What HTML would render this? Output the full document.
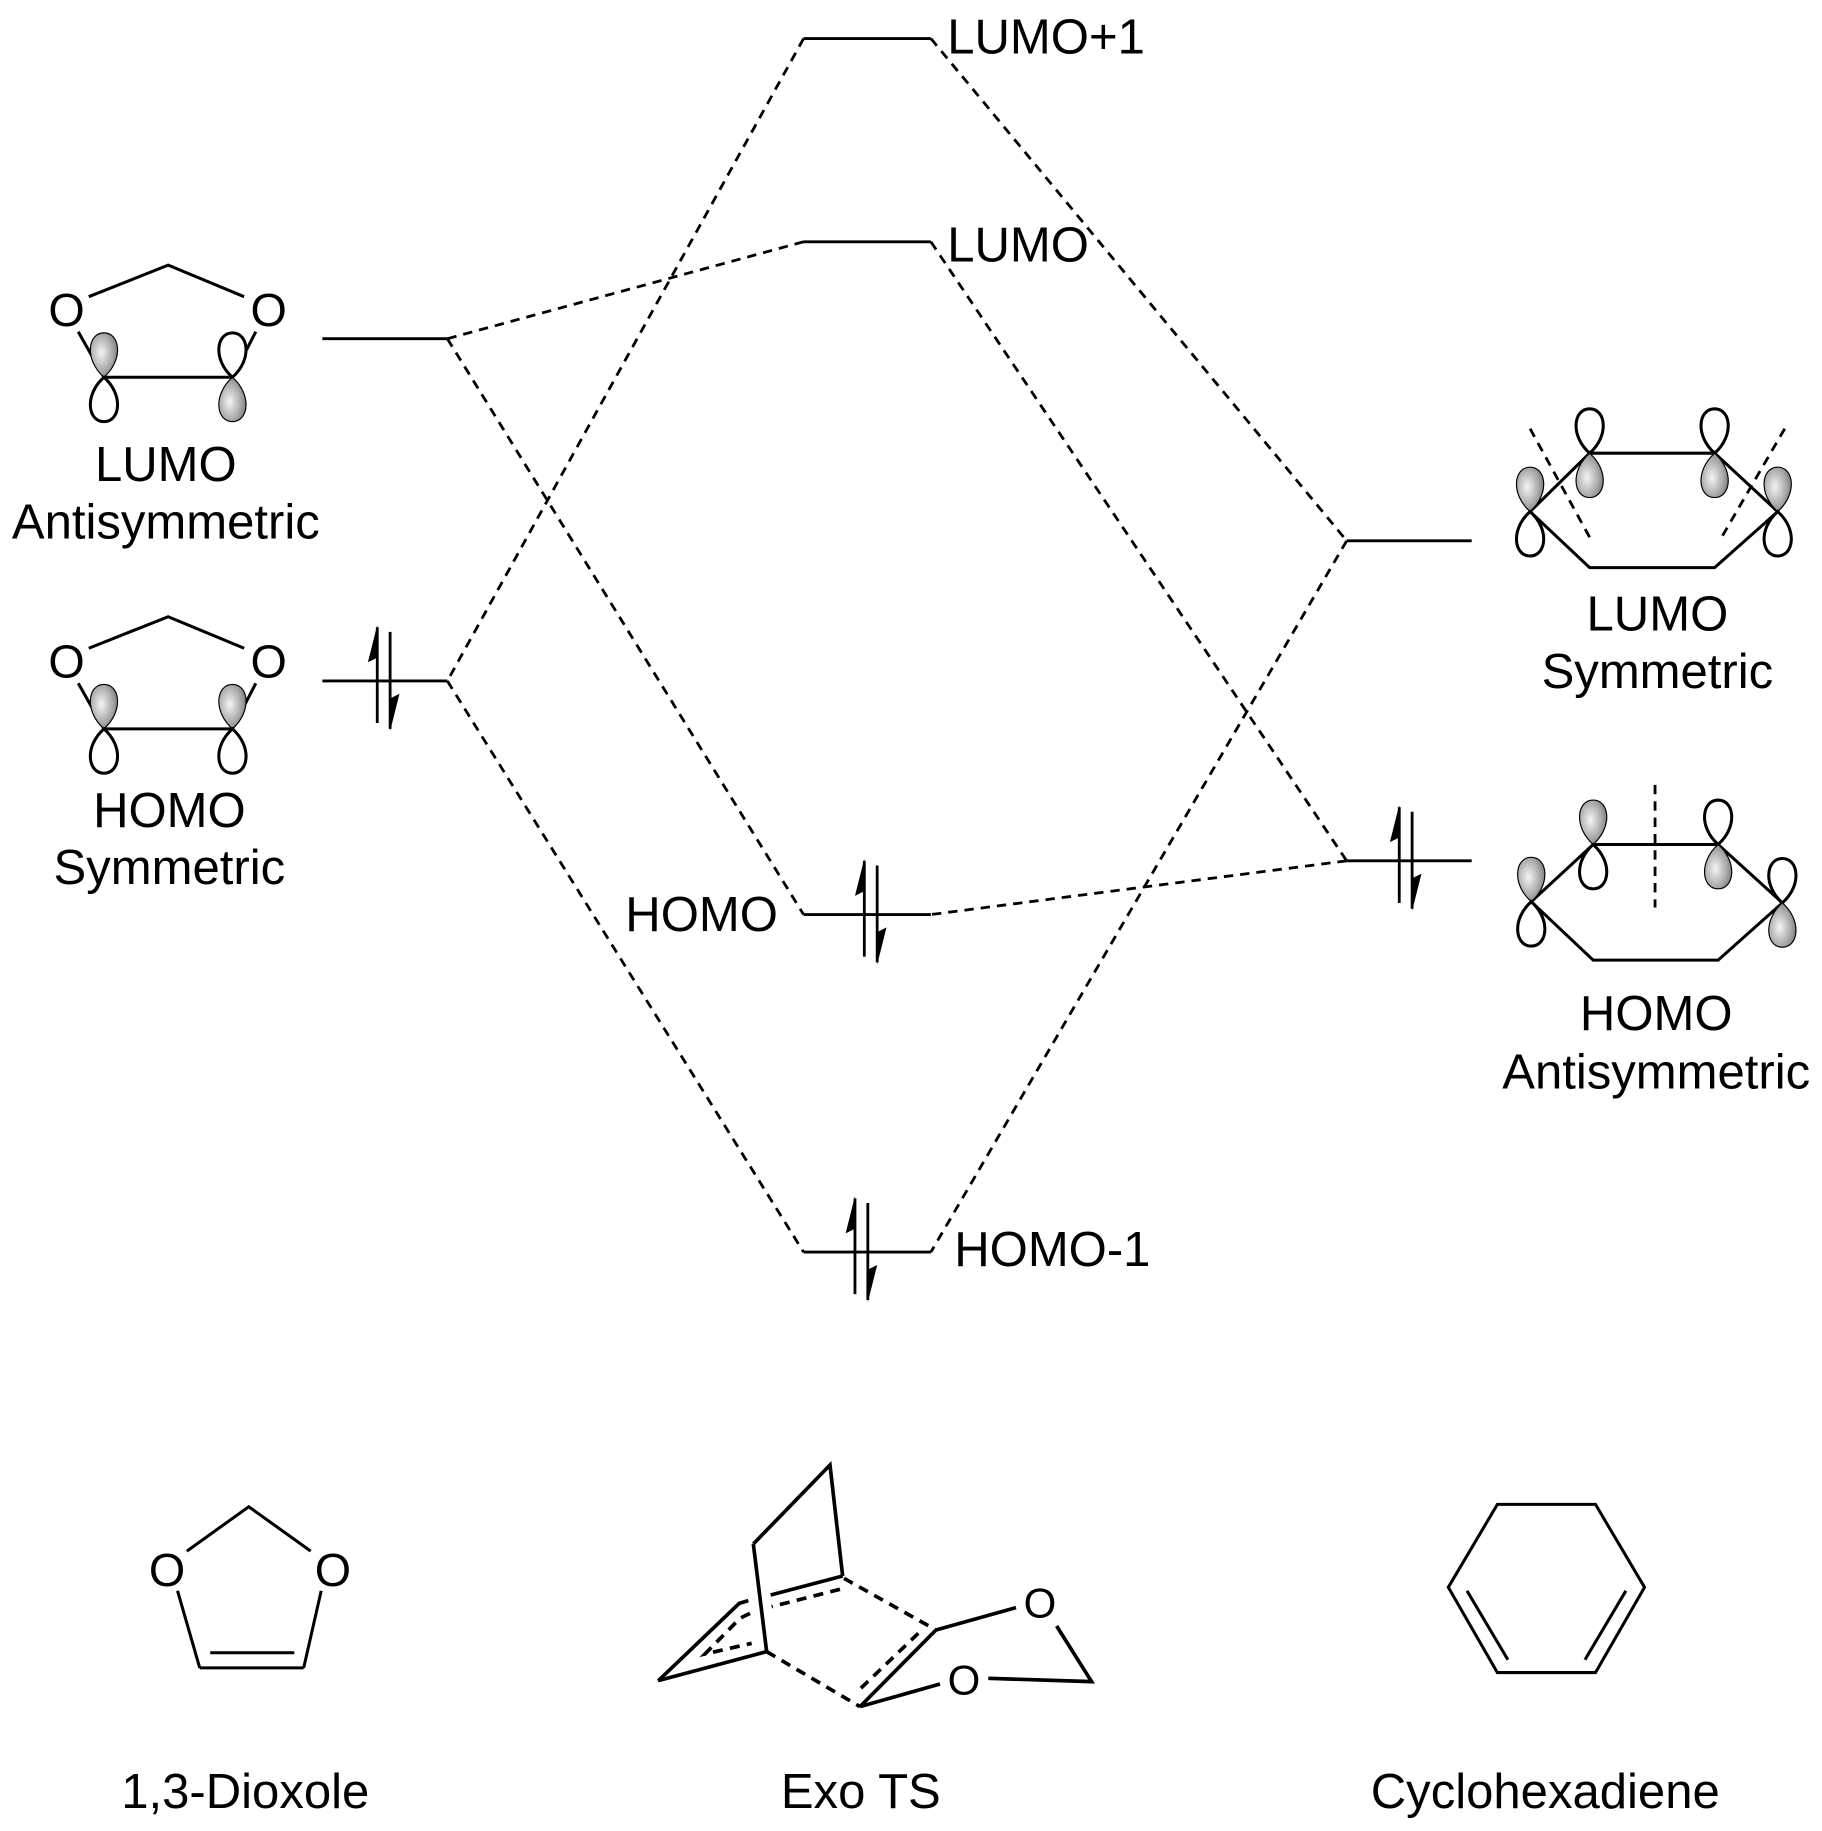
<!DOCTYPE html>
<html><head><meta charset="utf-8"><style>
html,body{margin:0;padding:0;background:#fff;}
svg{display:block;}
text{font-family:"Liberation Sans",Arial,sans-serif;fill:#000;}
</style></head><body>
<svg width="1822" height="1831" viewBox="0 0 1822 1831" xmlns="http://www.w3.org/2000/svg">
<defs>
<radialGradient id="sh" cx="0.4" cy="0.45" r="0.7">
<stop offset="0" stop-color="#f4f4f4"/><stop offset="0.6" stop-color="#a8a8a8"/><stop offset="1" stop-color="#6a6a6a"/>
</radialGradient>
<path id="lu" d="M0,0 C-17,-15 -14,-38 0,-38 C14,-38 17,-15 0,0Z" fill="#fff" stroke="#000" stroke-width="2.6"/>
<path id="ls" d="M0,0 C-17,-15 -14,-38 0,-38 C14,-38 17,-15 0,0Z" fill="url(#sh)" stroke="#000" stroke-width="1"/>
<g id="ar">
<line x1="-5" y1="36" x2="-5" y2="-46" stroke="#000" stroke-width="2.4"/>
<path d="M-5,-48 L-13,-16 L-5,-20Z" fill="#000"/>
<line x1="6" y1="-42" x2="6" y2="41" stroke="#000" stroke-width="2.4"/>
<path d="M6,43 L14,11 L6,15Z" fill="#000"/>
</g>
</defs>
<g transform="scale(1.168)">
<g stroke="#000" stroke-width="2.5" fill="none">
<line x1="276" y1="290" x2="383" y2="290"/>
<line x1="276" y1="583" x2="383" y2="583"/>
<line x1="688" y1="33" x2="797" y2="33"/>
<line x1="688" y1="207" x2="797" y2="207"/>
<line x1="688" y1="783" x2="797" y2="783"/>
<line x1="688" y1="1072" x2="797" y2="1072"/>
<line x1="1153" y1="463" x2="1260" y2="463"/>
<line x1="1153" y1="737" x2="1260" y2="737"/>
</g>
<g stroke="#000" stroke-width="2.4" stroke-dasharray="8,6" fill="none">
<line x1="688" y1="33" x2="383" y2="583"/>
<line x1="688" y1="207" x2="383" y2="290"/>
<line x1="383" y1="290" x2="688" y2="783"/>
<line x1="383" y1="583" x2="688" y2="1072"/>
<line x1="797" y1="33" x2="1153" y2="463"/>
<line x1="797" y1="207" x2="1153" y2="737"/>
<line x1="1153" y1="463" x2="797" y2="1072"/>
<line x1="1153" y1="737" x2="797" y2="783"/>
</g>
<use href="#ar" x="328" y="583"/>
<use href="#ar" x="1203" y="737"/>
<use href="#ar" x="745" y="783"/>
<use href="#ar" x="737" y="1072"/>

<g font-size="42">
<text x="811" y="46">LUMO+1</text>
<text x="811" y="224">LUMO</text>
<text x="666" y="797" text-anchor="end">HOMO</text>
<text x="817" y="1084">HOMO-1</text>
<text x="142" y="412" text-anchor="middle">LUMO</text>
<text x="142" y="461" text-anchor="middle">Antisymmetric</text>
<text x="145" y="708" text-anchor="middle">HOMO</text>
<text x="145" y="757" text-anchor="middle">Symmetric</text>
<text x="1419" y="540" text-anchor="middle">LUMO</text>
<text x="1419" y="589" text-anchor="middle">Symmetric</text>
<text x="1418" y="882" text-anchor="middle">HOMO</text>
<text x="1418" y="932" text-anchor="middle">Antisymmetric</text>
<text x="210" y="1548" text-anchor="middle">1,3-Dioxole</text>
<text x="737" y="1548" text-anchor="middle">Exo TS</text>
<text x="1323" y="1548" text-anchor="middle">Cyclohexadiene</text>
</g>

<g stroke="#000" stroke-width="2.6" fill="none">
<polyline points="76,254 144,227 209,254"/>
<line x1="67" y1="284" x2="89" y2="323"/>
<line x1="219" y1="284" x2="199" y2="323"/>
<line x1="89" y1="323" x2="199" y2="323"/>
</g>
<g font-size="40" text-anchor="middle"><text x="57" y="279">O</text><text x="230" y="279">O</text></g>
<use href="#ls" x="89" y="323"/>
<use href="#lu" transform="translate(89,323) scale(1,-1)"/>
<use href="#lu" x="199" y="323"/>
<use href="#ls" transform="translate(199,323) scale(1,-1)"/>

<g transform="translate(0,301)">
<g stroke="#000" stroke-width="2.6" fill="none">
<polyline points="76,254 144,227 209,254"/>
<line x1="67" y1="284" x2="89" y2="323"/>
<line x1="219" y1="284" x2="199" y2="323"/>
<line x1="89" y1="323" x2="199" y2="323"/>
</g>
<g font-size="40" text-anchor="middle"><text x="57" y="279">O</text><text x="230" y="279">O</text></g>
<use href="#ls" x="89" y="323"/>
<use href="#lu" transform="translate(89,323) scale(1,-1)"/>
<use href="#ls" x="199" y="323"/>
<use href="#lu" transform="translate(199,323) scale(1,-1)"/>
</g>

<polygon points="1310,438 1361,388 1468,388 1522,438 1468,486 1361,486" fill="none" stroke="#000" stroke-width="2.6"/>
<g stroke="#000" stroke-width="2.4" stroke-dasharray="8,6">
<line x1="1310" y1="367" x2="1361" y2="460"/>
<line x1="1528" y1="367" x2="1474" y2="460"/>
</g>
<use href="#lu" x="1361" y="388"/>
<use href="#ls" transform="translate(1361,388) scale(1,-1)"/>
<use href="#lu" x="1468" y="388"/>
<use href="#ls" transform="translate(1468,388) scale(1,-1)"/>
<use href="#ls" x="1310" y="438"/>
<use href="#lu" transform="translate(1310,438) scale(1,-1)"/>
<use href="#ls" x="1522" y="438"/>
<use href="#lu" transform="translate(1522,438) scale(1,-1)"/>

<polygon points="1311,772 1364,723 1471,723 1526,773 1471,822 1364,822" fill="none" stroke="#000" stroke-width="2.6"/>
<line x1="1417" y1="672" x2="1417" y2="777" stroke="#000" stroke-width="2.4" stroke-dasharray="8,6"/>
<use href="#ls" x="1364" y="723"/>
<use href="#lu" transform="translate(1364,723) scale(1,-1)"/>
<use href="#lu" x="1471" y="723"/>
<use href="#ls" transform="translate(1471,723) scale(1,-1)"/>
<use href="#ls" x="1311" y="772"/>
<use href="#lu" transform="translate(1311,772) scale(1,-1)"/>
<use href="#lu" x="1526" y="773"/>
<use href="#ls" transform="translate(1526,773) scale(1,-1)"/>

<g stroke="#000" stroke-width="2.6" fill="none">
<polyline points="160,1328 213,1290 266,1328"/>
<line x1="152" y1="1362" x2="171" y2="1428"/>
<line x1="275" y1="1362" x2="260" y2="1428"/>
<line x1="171" y1="1428" x2="260" y2="1428"/>
<line x1="180" y1="1415" x2="252" y2="1415"/>
</g>
<g font-size="40" text-anchor="middle"><text x="143" y="1358">O</text><text x="285" y="1358">O</text></g>

<g stroke="#000" stroke-width="2.6" fill="none">
<polygon points="1282,1288 1366,1288 1408,1359 1366,1432 1282,1432 1240,1359"/>
<line x1="1256" y1="1362" x2="1291" y2="1421"/>
<line x1="1392" y1="1362" x2="1357" y2="1421"/>
</g>
</g>

<g transform="translate(640,1450) scale(0.3333)">
<g stroke="#000" stroke-width="11" fill="none">
<polyline points="340,282 570,45 608,378"/>
<line x1="340" y1="282" x2="380" y2="605"/>
<line x1="608" y1="378" x2="392" y2="435"/>
<polyline points="325,452 298,460 55,692 380,605"/>
<line x1="888" y1="540" x2="660" y2="770"/>
<line x1="888" y1="540" x2="1128" y2="473"/>
<polyline points="1250,528 1355,695 1045,685"/>
<line x1="900" y1="702" x2="660" y2="770"/>
</g>
<g stroke="#000" stroke-width="11" fill="none" stroke-dasharray="30,22">
<line x1="600" y1="418" x2="395" y2="470"/>
<polyline points="330,490 300,505 195,612 335,580"/>
<line x1="612" y1="385" x2="888" y2="540"/>
<line x1="380" y1="605" x2="660" y2="770"/>
<line x1="835" y1="550" x2="655" y2="722"/>
</g>
<g font-size="126" text-anchor="middle"><text x="1200" y="502">O</text><text x="972" y="734">O</text></g>
</g>
</svg>
</body></html>
